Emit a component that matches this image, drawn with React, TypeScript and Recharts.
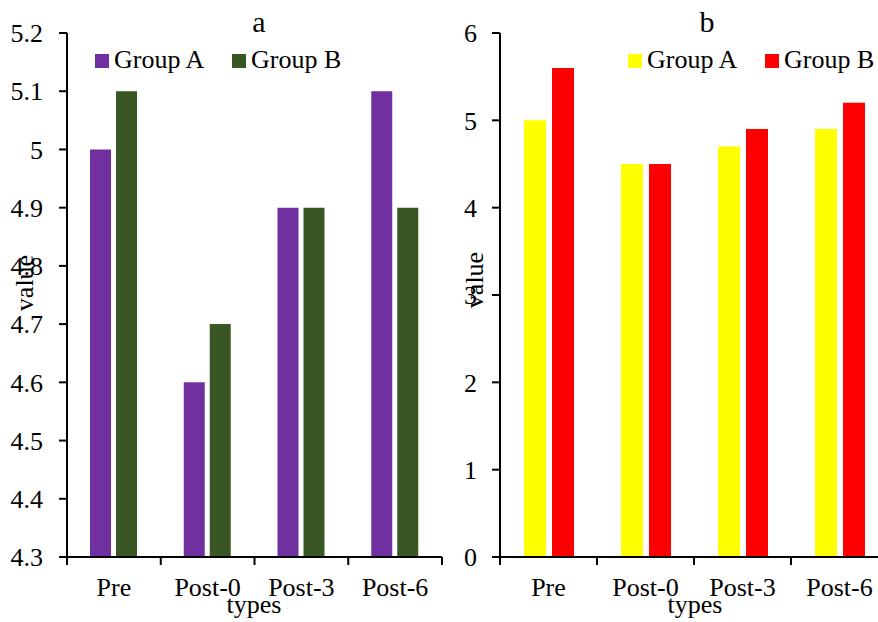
import React from "react";
import { BarChart, Bar, XAxis, YAxis, Legend } from "recharts";

const FONT = '"Liberation Serif", "Times New Roman", serif';

// data
const types = ["Pre", "Post-0", "Post-3", "Post-6"];
const panelAGroupA = [5.0, 4.6, 4.9, 5.1];
const panelAGroupB = [5.1, 4.7, 4.9, 4.9];
const panelBGroupA = [5.0, 4.5, 4.7, 4.9];
const panelBGroupB = [5.6, 4.5, 4.9, 5.2];
const panelATicks = [4.3, 4.4, 4.5, 4.6, 4.7, 4.8, 4.9, 5, 5.1, 5.2];
const panelBTicks = [0, 1, 2, 3, 4, 5, 6];

const dataA = types.map((t, i) => ({ type: t, a: panelAGroupA[i], b: panelAGroupB[i] }));
const dataB = types.map((t, i) => ({ type: t, a: panelBGroupA[i], b: panelBGroupB[i] }));

// category tick: label at band centre, tick marks on band edges
function TypeTick(props: any) {
  const { x, y, payload, index, visibleTicksCount } = props;
  const half = payload?.offset ?? 0;
  const axisY = y - 21;
  return (
    <g>
      <line x1={x - half} x2={x - half} y1={axisY} y2={axisY + 8} stroke="#000" strokeWidth={2} />
      {index === visibleTicksCount - 1 && (
        <line x1={x + half} x2={x + half} y1={axisY} y2={axisY + 8} stroke="#000" strokeWidth={2} />
      )}
      <text x={x} y={y} dy="0.71em" textAnchor="middle" fontSize={26} fontFamily={FONT} fill="#000">
        {payload.value}
      </text>
    </g>
  );
}

function LegendBox(props: any) {
  const { payload } = props;
  return (
    <div style={{ display: "flex", fontFamily: FONT, fontSize: 26, lineHeight: "26px", color: "#000" }}>
      {(payload || []).map((p: any) => (
        <div key={p.value} style={{ display: "flex", alignItems: "flex-start", width: 137 }}>
          <span style={{ display: "inline-block", width: 14, height: 14, background: p.color, marginTop: 7, marginRight: 5 }} />
          <span style={{ whiteSpace: "nowrap" }}>{p.value}</span>
        </div>
      ))}
    </div>
  );
}

interface PanelProps {
  data: { type: string; a: number; b: number }[];
  domain: [number, number];
  ticks: number[];
  colors: [string, string];
  yWidth: number;
  tickMargin: number;
  barSize: number;
  barGap: number;
  rightMargin: number;
  legendLeft: number;
}

function Panel(p: PanelProps) {
  const axisStroke = { stroke: "#000", strokeWidth: 2 };
  return (
    <BarChart
      width={450}
      height={622}
      data={p.data}
      margin={{ top: 33, right: p.rightMargin, bottom: 0, left: 0 }}
      barSize={p.barSize}
      barGap={p.barGap}
    >
      <XAxis
        xAxisId="top"
        dataKey="type"
        orientation="top"
        height={0}
        tick={false}
        tickLine={false}
        axisLine={axisStroke}
      />
      <XAxis
        dataKey="type"
        height={65}
        tickLine={false}
        tickSize={8}
        tickMargin={13}
        axisLine={axisStroke}
        tick={<TypeTick />}
        interval={0}
      />
      <YAxis
        type="number"
        domain={p.domain}
        ticks={p.ticks}
        allowDataOverflow
        width={p.yWidth}
        tickSize={8}
        tickMargin={p.tickMargin}
        tickLine={axisStroke}
        axisLine={axisStroke}
        tick={{ fill: "#000", fontSize: 26, fontFamily: FONT }}
        interval={0}
      />
      <YAxis
        yAxisId="right"
        orientation="right"
        width={0}
        tick={false}
        tickLine={false}
        axisLine={axisStroke}
      />
      <Legend
        layout="vertical"
        align="center"
        verticalAlign="middle"
        content={<LegendBox />}
        wrapperStyle={{ top: 47, left: p.legendLeft, width: 300, height: 30 }}
      />
      <Bar dataKey="a" name="Group A" fill={p.colors[0]} isAnimationActive={false} />
      <Bar dataKey="b" name="Group B" fill={p.colors[1]} isAnimationActive={false} />
    </BarChart>
  );
}

export default function App() {
  return (
    <div
      style={{
        position: "absolute",
        left: 0,
        top: 0,
        width: 878,
        height: 622,
        overflow: "hidden",
        background: "#fff",
      }}
    >
      <div style={{ position: "absolute", left: 0, top: 0 }}>
        <Panel
          data={dataA}
          domain={[4.3, 5.2]}
          ticks={panelATicks}
          colors={["#7030A0", "#385723"]}
          yWidth={67}
          tickMargin={16}
          barSize={21}
          barGap={5}
          rightMargin={8}
          legendLeft={95}
        />
      </div>
      <div style={{ position: "absolute", left: 440, top: 0 }}>
        <Panel
          data={dataB}
          domain={[0, 6]}
          ticks={panelBTicks}
          colors={["#FFFF00", "#FF0000"]}
          yWidth={60}
          tickMargin={15}
          barSize={22}
          barGap={6}
          rightMargin={2}
          legendLeft={188}
        />
      </div>
      <svg
        width={878}
        height={622}
        style={{ position: "absolute", left: 0, top: 0, pointerEvents: "none" }}
        fontFamily={FONT}
        fill="#000"
      >
        <text x={259} y={32} fontSize={30} textAnchor="middle">a</text>
        <text x={707} y={32} fontSize={30} textAnchor="middle">b</text>
        <text x={254} y={613} fontSize={26} textAnchor="middle">types</text>
        <text x={695} y={613} fontSize={26} textAnchor="middle">types</text>
        <text x={33} y={283} fontSize={26} textAnchor="middle" transform="rotate(-90 33 283)">value</text>
        <text x={483} y={280} fontSize={26} textAnchor="middle" transform="rotate(-90 483 280)">value</text>
      </svg>
    </div>
  );
}
